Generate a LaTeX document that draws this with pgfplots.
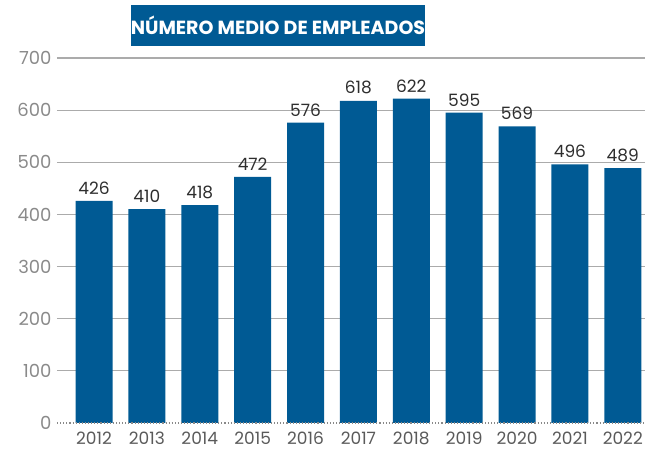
\documentclass[border=0pt]{standalone}
\usepackage{pgfplots}
\pgfplotsset{compat=1.18}
\usepackage{fontspec}
\setmainfont{Poppins}
\definecolor{barblue}{HTML}{005A94}
\definecolor{ticklab}{HTML}{8A8A8A}
\definecolor{yearlab}{HTML}{5A5A5A}
\definecolor{gridc}{HTML}{ABABAB}
\begin{document}
\begin{tikzpicture}[x=1pt,y=1pt]
\useasboundingbox (-57,-26) rectangle (588,423);
\begin{axis}[
  at={(0,0)}, anchor=south west,
  scale only axis,
  width=588pt, height=365pt,
  xmin=-0.7, xmax=10.42,
  ymin=0, ymax=700,
  ytick={100,200,...,700},
  extra y ticks={0},
  extra y tick style={grid=none, tick style={draw=none}},
  xtick={0,...,10},
  xticklabels={2012,2013,2014,2015,2016,2017,2018,2019,2020,2021,2022},
  axis line style={draw=none},
  tick style={draw=none},
  ymajorgrids,
  grid style={gridc, line width=1.1pt},
  yticklabel style={font=\fontsize{18}{18}\selectfont, text=ticklab, xshift=-2pt},
  xticklabel style={font=\fontsize{17}{17}\selectfont, text=yearlab, anchor=north, inner sep=0pt, text height=12.5pt, text depth=0pt},
  xticklabel shift=5pt,
  /pgf/number format/assume math mode=true,
  ybar, bar width=0.7,
  nodes near coords,
  every node near coord/.append style={font=\fontsize{17}{17}\selectfont, text=black!82, yshift=3pt},
  clip=false,
]
\addplot[fill=barblue, draw=none] coordinates {
  (0,426) (1,410) (2,418) (3,472) (4,576) (5,618) (6,622) (7,595) (8,569) (9,496) (10,489)
};
\draw[gridc!80!black, dotted, line width=1.1pt] (axis cs:-0.7,0) -- (axis cs:10.42,0);
\end{axis}
\node[fill=barblue, text=white, font=\fontsize{19}{19}\selectfont\bfseries, minimum width=290pt, minimum height=41pt, inner sep=0pt] at (221,397.5) {NÚMERO MEDIO DE EMPLEADOS};
\end{tikzpicture}
\end{document}
